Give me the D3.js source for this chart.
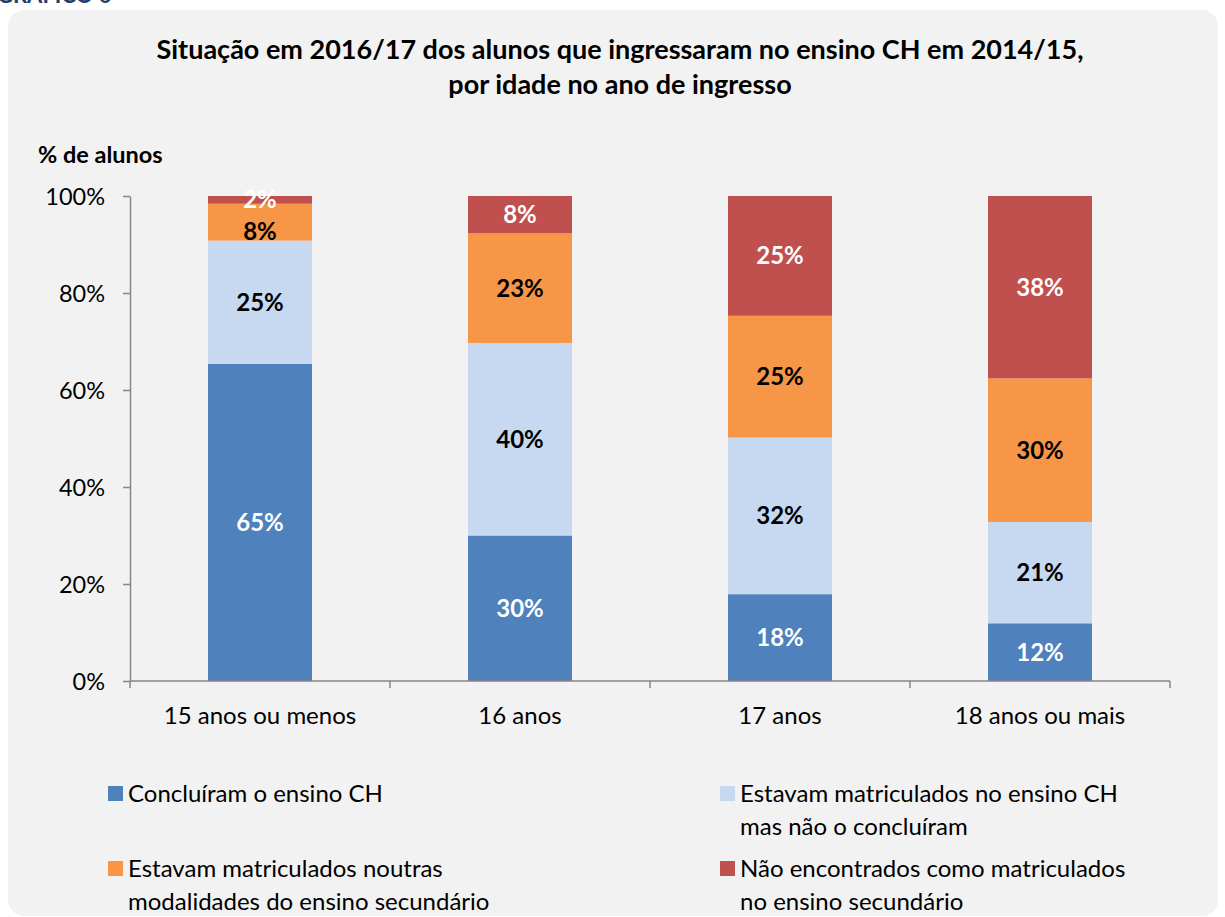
<!DOCTYPE html>
<html>
<head>
<meta charset="utf-8">
<script src="https://cdn.jsdelivr.net/npm/d3@7"></script>
<style>
  body { margin: 0; background: #ffffff; }
  svg { display: block; font-family: Lato, "Open Sans", sans-serif; }
</style>
</head>
<body>
<svg id="chart" width="1225" height="917"></svg>
<script>
// Data
const categories = ['15 anos ou menos', '16 anos', '17 anos', '18 anos ou mais'];
const seriesNames = [
    'Concluíram o ensino CH',
    'Estavam matriculados no ensino CH mas não o concluíram',
    'Estavam matriculados noutras modalidades do ensino secundário',
    'Não encontrados como matriculados no ensino secundário'
];
const concluiram = [65.4, 30.0, 17.9, 11.9];
const matriculadosCH = [25.4, 39.7, 32.3, 20.9];
const noutrasModalidades = [7.6, 22.6, 25.1, 29.6];
const naoEncontrados = [1.6, 7.7, 24.7, 37.6];
const yTicks = [0, 20, 40, 60, 80, 100];

const colors = ['#4f81bd', '#c6d9f1', '#f79646', '#c0504d'];
const labelColors = ['#ffffff', '#000000', '#000000', '#ffffff'];
const legendLines = [
    ['Concluíram o ensino CH'],
    ['Estavam matriculados no ensino CH', 'mas não o concluíram'],
    ['Estavam matriculados noutras', 'modalidades do ensino secundário'],
    ['Não encontrados como matriculados', 'no ensino secundário']
];

const svg = d3.select('#chart');

// header fragment above the panel (cut off in the original too)
svg.append('text')
    .attr('x', -3).attr('y', 3)
    .attr('font-size', 22).attr('font-weight', 'bold')
    .attr('fill', '#1f3d6b')
    .text('GRÁFICO 6');

// panel
svg.append('rect')
    .attr('x', 8).attr('y', 10)
    .attr('width', 1210).attr('height', 906)
    .attr('rx', 16).attr('ry', 16)
    .attr('fill', '#f2f2f2');

// title
const title = svg.append('text')
    .attr('text-anchor', 'middle')
    .attr('font-size', 27).attr('font-weight', 'bold')
    .attr('fill', '#000');
title.append('tspan').attr('x', 620).attr('y', 59)
    .text('Situação em 2016/17 dos alunos que ingressaram no ensino CH em 2014/15,');
title.append('tspan').attr('x', 620).attr('y', 94)
    .text('por idade no ano de ingresso');

svg.append('text')
    .attr('x', 38).attr('y', 163)
    .attr('font-size', 23.5).attr('font-weight', 'bold')
    .text('% de alunos');

// scales
const x = d3.scaleBand().domain(categories).range([130, 1170]).paddingInner(0).paddingOuter(0);
const y = d3.scaleLinear().domain([0, 100]).range([681, 196]);
const barWidth = x.bandwidth() * 0.4;

// stack
const rows = categories.map((c, i) => ({
    cat: c,
    s0: concluiram[i], s1: matriculadosCH[i], s2: noutrasModalidades[i], s3: naoEncontrados[i]
}));
const stack = d3.stack().keys(['s0', 's1', 's2', 's3'])(rows);

const layers = svg.append('g').selectAll('g')
    .data(stack).join('g')
    .attr('fill', (d, i) => colors[i]);

layers.selectAll('rect')
    .data(d => d).join('rect')
    .attr('x', d => x(d.data.cat) + (x.bandwidth() - barWidth) / 2)
    .attr('y', d => y(d[1]))
    .attr('width', barWidth)
    .attr('height', d => y(d[0]) - y(d[1]));

// axes
const axisColor = '#868686';
const yAxis = svg.append('g')
    .attr('transform', 'translate(130,0)')
    .call(d3.axisLeft(y).tickValues(yTicks).tickFormat(d => d + '%').tickSize(7).tickSizeOuter(0));
yAxis.select('.domain').attr('stroke', axisColor).attr('stroke-width', 1.5);
yAxis.selectAll('.tick line').attr('stroke', axisColor).attr('stroke-width', 1.5);
yAxis.selectAll('.tick text')
    .attr('x', -25).attr('dy', '0.35em')
    .attr('font-size', 23.5).attr('fill', '#000')
    .attr('font-family', 'Lato, "Open Sans", sans-serif');

const xAxis = svg.append('g').attr('transform', 'translate(0,681)');
xAxis.append('line')
    .attr('x1', 130).attr('x2', 1170)
    .attr('stroke', axisColor).attr('stroke-width', 1.5);
const boundaries = categories.map(c => x(c)).concat([x.range()[1]]);
xAxis.selectAll('line.tk')
    .data(boundaries).join('line')
    .attr('class', 'tk')
    .attr('x1', d => d).attr('x2', d => d)
    .attr('y1', 0).attr('y2', 7)
    .attr('stroke', axisColor).attr('stroke-width', 1.5);
xAxis.selectAll('text')
    .data(categories).join('text')
    .attr('x', d => x(d) + x.bandwidth() / 2)
    .attr('y', 43)
    .attr('text-anchor', 'middle')
    .attr('font-size', 24)
    .text(d => d);

// value labels: centred in each segment, pushed down if too close to the label above
const labelY = stack.map(layer => layer.map(v => y((v[0] + v[1]) / 2)));
categories.forEach((c, j) => {
    for (let i = stack.length - 2; i >= 0; i--) {
        const above = labelY[i + 1][j];
        if (labelY[i][j] - above < 32) labelY[i][j] = above + 32;
    }
});

layers.selectAll('text')
    .data((d, i) => d.map((v, j) => ({ v, i, j }))).join('text')
    .attr('x', d => x(d.v.data.cat) + x.bandwidth() / 2)
    .attr('y', d => labelY[d.i][d.j])
    .attr('dy', '0.35em')
    .attr('text-anchor', 'middle')
    .attr('font-size', 24).attr('font-weight', 'bold')
    .attr('fill', d => labelColors[d.i])
    .text(d => Math.round(d.v[1] - d.v[0]) + '%');

// legend
const legendPos = [
    { x: 108, y: 786 },
    { x: 720, y: 786 },
    { x: 108, y: 861 },
    { x: 720, y: 861 }
];
const legend = svg.append('g').selectAll('g')
    .data(legendLines).join('g')
    .attr('transform', (d, i) => `translate(${legendPos[i].x},${legendPos[i].y})`);
legend.append('rect')
    .attr('width', 15).attr('height', 15)
    .attr('fill', (d, i) => colors[i]);
legend.append('text')
    .attr('font-size', 24)
    .selectAll('tspan')
    .data(d => d).join('tspan')
    .attr('x', 20)
    .attr('y', (d, j) => 16 + j * 33)
    .text(d => d);
</script>
</body>
</html>
